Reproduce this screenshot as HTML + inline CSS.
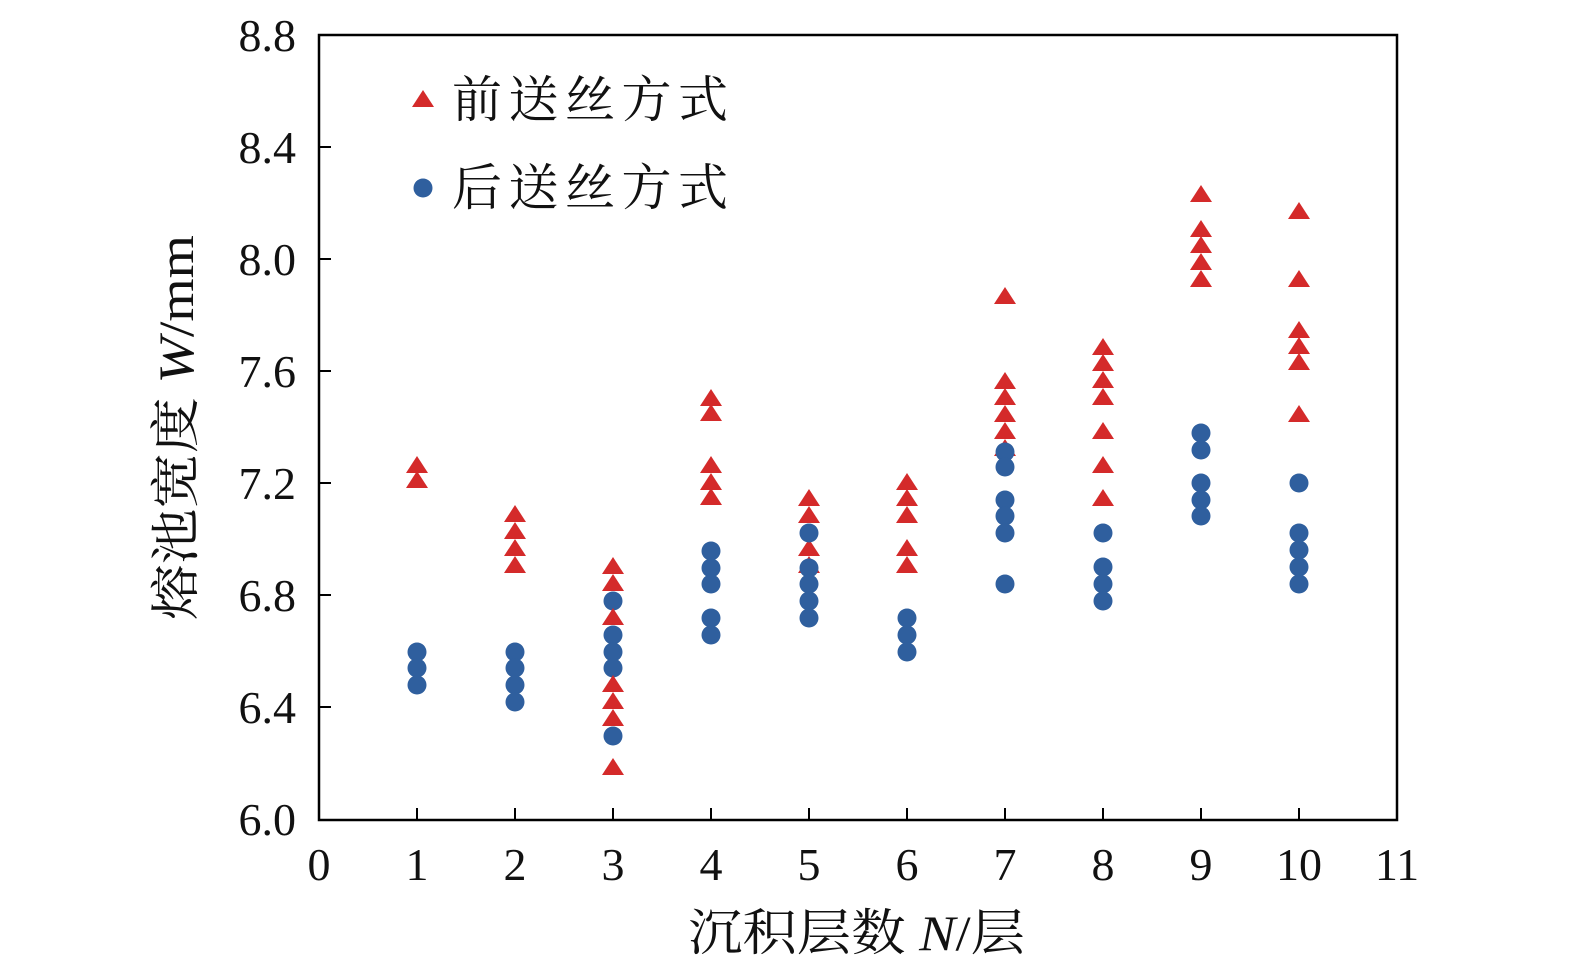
<!DOCTYPE html>
<html><head><meta charset="utf-8"><style>
html,body{margin:0;padding:0;background:#fff;width:1575px;height:976px;overflow:hidden}
svg{display:block}
text{font-family:"Liberation Serif","Noto Serif CJK SC",serif}
.num{font-family:"Liberation Serif",serif}
</style></head><body>
<svg width="1575" height="976" viewBox="0 0 1575 976" xmlns="http://www.w3.org/2000/svg">
<defs>
<polygon id="t" points="0,-10 11,7 -11,7" fill="#d42a2a"/>
<circle id="c" r="9.5" fill="#2f5f9e"/>
</defs>
<rect x="319" y="35" width="1078" height="785" fill="none" stroke="#000" stroke-width="2.5"/>
<g stroke="#000" stroke-width="2">
<line x1="319" y1="147" x2="331" y2="147"/><line x1="319" y1="259" x2="331" y2="259"/><line x1="319" y1="371" x2="331" y2="371"/><line x1="319" y1="483" x2="331" y2="483"/><line x1="319" y1="595" x2="331" y2="595"/><line x1="319" y1="707" x2="331" y2="707"/>
<line x1="417" y1="820" x2="417" y2="808"/><line x1="515" y1="820" x2="515" y2="808"/><line x1="613" y1="820" x2="613" y2="808"/><line x1="711" y1="820" x2="711" y2="808"/><line x1="809" y1="820" x2="809" y2="808"/><line x1="907" y1="820" x2="907" y2="808"/><line x1="1005" y1="820" x2="1005" y2="808"/><line x1="1103" y1="820" x2="1103" y2="808"/><line x1="1201" y1="820" x2="1201" y2="808"/><line x1="1299" y1="820" x2="1299" y2="808"/>
</g>
<g class="num" font-size="46" text-anchor="end" fill="#111">
<text class="num" x="296" y="51">8.8</text><text class="num" x="296" y="163">8.4</text><text class="num" x="296" y="275">8.0</text><text class="num" x="296" y="387">7.6</text><text class="num" x="296" y="499">7.2</text><text class="num" x="296" y="611">6.8</text><text class="num" x="296" y="723">6.4</text><text class="num" x="296" y="835">6.0</text>
</g>
<g font-size="46" text-anchor="middle" fill="#111">
<text class="num" x="319" y="880">0</text><text class="num" x="417" y="880">1</text><text class="num" x="515" y="880">2</text><text class="num" x="613" y="880">3</text><text class="num" x="711" y="880">4</text><text class="num" x="809" y="880">5</text><text class="num" x="907" y="880">6</text><text class="num" x="1005" y="880">7</text><text class="num" x="1103" y="880">8</text><text class="num" x="1201" y="880">9</text><text class="num" x="1299" y="880">10</text><text class="num" x="1397" y="880">11</text>
</g>
<text x="688" y="950" font-size="50" fill="#111" textLength="337" lengthAdjust="spacingAndGlyphs">沉积层数 <tspan class="num" font-style="italic">N</tspan>/层</text>
<text transform="translate(193,620) rotate(-90)" font-size="50" fill="#111" textLength="385" lengthAdjust="spacingAndGlyphs">熔池宽度 <tspan class="num" font-style="italic">W</tspan><tspan class="num">/mm</tspan></text>
<use href="#t" x="423" y="100"/><text x="452" y="117" font-size="50" fill="#111" textLength="276">前送丝方式</text>
<use href="#c" x="423" y="188"/><text x="452" y="205" font-size="50" fill="#111" textLength="276">后送丝方式</text>
<g>
<use href="#c" x="417" y="652"/><use href="#c" x="417" y="668"/><use href="#c" x="417" y="685"/>
<use href="#t" x="417" y="466"/><use href="#t" x="417" y="481"/>
<use href="#c" x="515" y="652"/><use href="#c" x="515" y="668"/><use href="#c" x="515" y="685"/><use href="#c" x="515" y="702"/>
<use href="#t" x="515" y="515"/><use href="#t" x="515" y="532"/><use href="#t" x="515" y="549"/><use href="#t" x="515" y="566"/>
<use href="#t" x="613" y="567"/><use href="#t" x="613" y="584"/><use href="#c" x="613" y="601"/><use href="#t" x="613" y="618"/><use href="#c" x="613" y="635"/><use href="#c" x="613" y="652"/><use href="#c" x="613" y="668"/><use href="#t" x="613" y="685"/><use href="#t" x="613" y="702"/><use href="#t" x="613" y="719"/><use href="#c" x="613" y="736"/><use href="#t" x="613" y="768"/>
<use href="#t" x="711" y="399"/><use href="#t" x="711" y="414"/><use href="#t" x="711" y="466"/><use href="#t" x="711" y="483"/><use href="#t" x="711" y="498"/>
<use href="#c" x="711" y="551"/><use href="#c" x="711" y="568"/><use href="#c" x="711" y="584"/><use href="#c" x="711" y="618"/><use href="#c" x="711" y="635"/>
<use href="#t" x="809" y="499"/><use href="#t" x="809" y="516"/><use href="#t" x="809" y="549"/><use href="#t" x="809" y="566"/>
<use href="#c" x="809" y="533"/><use href="#c" x="809" y="568"/><use href="#c" x="809" y="584"/><use href="#c" x="809" y="601"/><use href="#c" x="809" y="618"/>
<use href="#t" x="907" y="483"/><use href="#t" x="907" y="499"/><use href="#t" x="907" y="516"/><use href="#t" x="907" y="549"/><use href="#t" x="907" y="566"/>
<use href="#c" x="907" y="618"/><use href="#c" x="907" y="635"/><use href="#c" x="907" y="652"/>
<use href="#t" x="1005" y="297"/><use href="#t" x="1005" y="382"/><use href="#t" x="1005" y="398"/><use href="#t" x="1005" y="415"/><use href="#t" x="1005" y="432"/><use href="#t" x="1005" y="449"/>
<use href="#c" x="1005" y="452"/><use href="#c" x="1005" y="467"/><use href="#c" x="1005" y="500"/><use href="#c" x="1005" y="516"/><use href="#c" x="1005" y="533"/><use href="#c" x="1005" y="584"/>
<use href="#t" x="1103" y="348"/><use href="#t" x="1103" y="364"/><use href="#t" x="1103" y="381"/><use href="#t" x="1103" y="398"/><use href="#t" x="1103" y="432"/><use href="#t" x="1103" y="466"/><use href="#t" x="1103" y="499"/>
<use href="#c" x="1103" y="533"/><use href="#c" x="1103" y="567"/><use href="#c" x="1103" y="584"/><use href="#c" x="1103" y="601"/>
<use href="#t" x="1201" y="195"/><use href="#t" x="1201" y="230"/><use href="#t" x="1201" y="246"/><use href="#t" x="1201" y="263"/><use href="#t" x="1201" y="280"/>
<use href="#c" x="1201" y="433"/><use href="#c" x="1201" y="450"/><use href="#c" x="1201" y="483"/><use href="#c" x="1201" y="500"/><use href="#c" x="1201" y="516"/>
<use href="#t" x="1299" y="212"/><use href="#t" x="1299" y="280"/><use href="#t" x="1299" y="331"/><use href="#t" x="1299" y="347"/><use href="#t" x="1299" y="363"/><use href="#t" x="1299" y="415"/>
<use href="#c" x="1299" y="483"/><use href="#c" x="1299" y="533"/><use href="#c" x="1299" y="550"/><use href="#c" x="1299" y="567"/><use href="#c" x="1299" y="584"/>
</g>
</svg>
</body></html>
